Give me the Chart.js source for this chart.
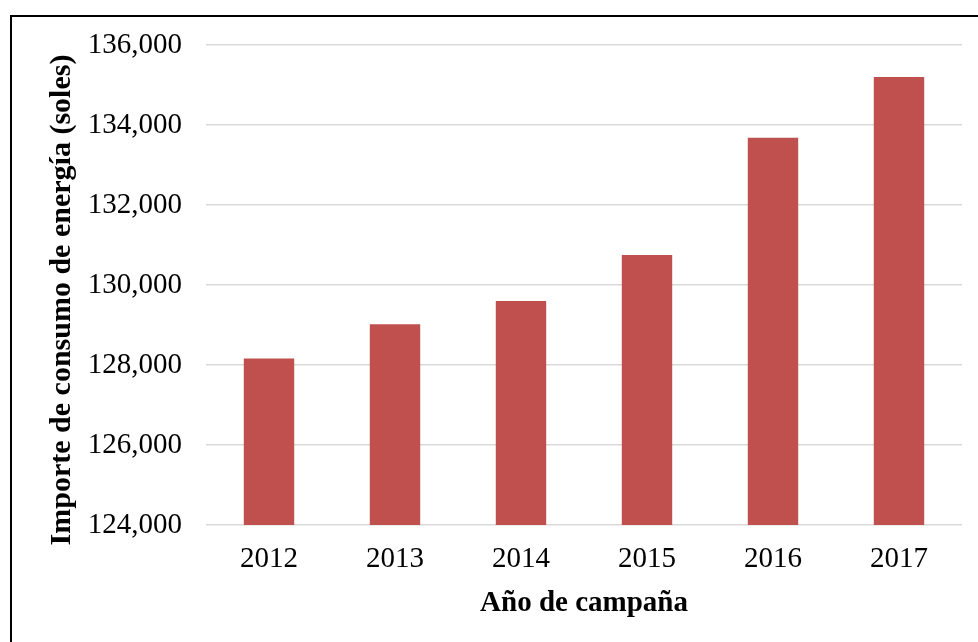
<!DOCTYPE html>
<html>
<head>
<meta charset="utf-8">
<script src="https://cdn.jsdelivr.net/npm/chart.js@4"></script>
<style>
  body { margin: 0; background: #fff; overflow: hidden; }
  #frame {
    position: absolute; left: 10px; top: 15px;
    width: 1000px; height: 700px;
    border: 2px solid #000;
  }
  #myChart { position: absolute; left: 0; top: 0; }
</style>
</head>
<body>
<div id="frame"></div>
<canvas id="myChart" width="978" height="642"></canvas>
<script>
// data
const years = ['2012', '2013', '2014', '2015', '2016', '2017'];
const importe = [128160, 129020, 129600, 130750, 133680, 135200];
const yMin = 124000;
const yMax = 136000;
const yStep = 2000;

const ctx = document.getElementById('myChart').getContext('2d');
const serif = "'Liberation Serif', 'Times New Roman', serif";

new Chart(ctx, {
  type: 'bar',
  data: {
    labels: years,
    datasets: [{
      data: importe,
      backgroundColor: '#C0504D',
      borderWidth: 0,
      barPercentage: 0.4,
      categoryPercentage: 1
    }]
  },
  options: {
    responsive: false,
    animation: false,
    layout: { padding: { left: 0, right: 16, top: 45, bottom: 0 } },
    plugins: {
      legend: { display: false },
      tooltip: { enabled: false }
    },
    scales: {
      x: {
        grid: { display: false, drawTicks: false },
        border: { display: false },
        ticks: { color: '#000', font: { family: serif, size: 29 }, padding: 17 },
        title: {
          display: true,
          text: 'Año de campaña',
          color: '#000',
          font: { family: serif, size: 29, weight: 'bold' },
          padding: { top: 0, bottom: 21 }
        },
        afterFit: (scale) => { scale.height = 117; }
      },
      y: {
        min: yMin,
        max: yMax,
        grid: { color: '#d9d9d9', lineWidth: 1.5, drawTicks: false },
        border: { display: false },
        ticks: {
          stepSize: yStep,
          color: '#000',
          font: { family: serif, size: 29 },
          padding: 24,
          callback: (v) => v.toLocaleString('en-US')
        },
        title: {
          display: true,
          // trailing spaces nudge the title down like in the original
          text: 'Importe de consumo de energía (soles)\u00A0\u00A0\u00A0\u00A0',
          color: '#000',
          font: { family: serif, size: 30, weight: 'bold' },
          padding: { top: 44, bottom: 0 }
        },
        afterFit: (scale) => { scale.width = 206; }
      }
    }
  }
});
</script>
</body>
</html>
